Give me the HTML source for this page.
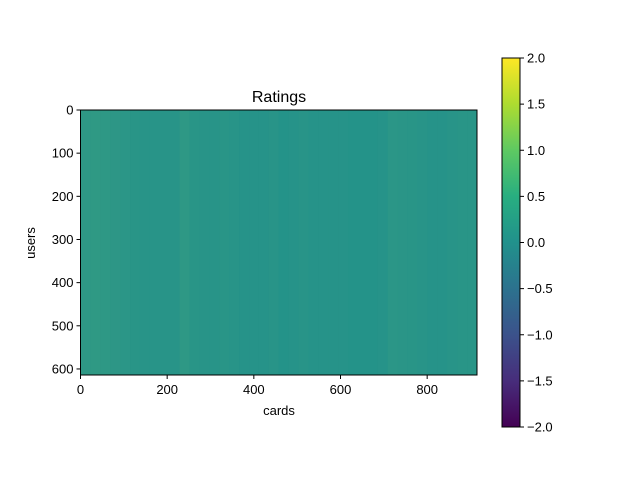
<!DOCTYPE html>
<html><head><meta charset="utf-8"><style>
body{margin:0;background:#fff;font-family:"Liberation Sans",sans-serif;}
svg text{font-family:"Liberation Sans",sans-serif;fill:#000}
</style></head><body>
<svg width="640" height="480" viewBox="0 0 640 480">
<defs>
<linearGradient id="vir" x1="0" y1="1" x2="0" y2="0">
<stop offset="0" stop-color="#440154"/><stop offset="0.125" stop-color="#472d7b"/>
<stop offset="0.25" stop-color="#3b528b"/><stop offset="0.375" stop-color="#2c728e"/>
<stop offset="0.5" stop-color="#21918c"/><stop offset="0.625" stop-color="#28ae80"/>
<stop offset="0.75" stop-color="#5ec962"/><stop offset="0.875" stop-color="#addc30"/>
<stop offset="1" stop-color="#fde725"/></linearGradient>
</defs>
<text x="279" y="102" font-size="16" text-anchor="middle">Ratings</text>
<g id="plot"></g>
<g id="axes"></g>
<rect x="502" y="58" width="18" height="369" fill="url(#vir)" stroke="#000" stroke-width="1"/>
<g id="cbticks"></g>
<text x="279" y="415" font-size="13" text-anchor="middle">cards</text>
<text x="35" y="243" font-size="13" text-anchor="middle" transform="rotate(-90 35 243)">users</text>
</svg>
<script>
const nCols = 915, nRows = 614;
const xTicks = [0,200,400,600,800];
const yTicks = [0,100,200,300,400,500,600];
const cbTicks = [2.0,1.5,1.0,0.5,0.0,-0.5,-1.0,-1.5,-2.0];
// column-bin (23 cards each) density of non-zero ratings
const colDensity = [0.5,0.55,0.5,0.45,0.4,0.3,0.25,0.25,0.25,0.25,0.5,0.3,0.25,0.25,0.3,0.25,0.2,0.2,0.2,0.25,0.15,0.2,0.25,0.2,0.2,0.2,0.2,0.15,0.15,0.15,0.2,0.4,0.35,0.3,0.25,0.2,0.2,0.25,0.3,0.3];
const x0=80.5,x1=477,y0=110,y1=375;
const sx=v=>x0+v*(x1-x0)/nCols, sy=v=>y0+v*(y1-y0)/nRows;
const NS="http://www.w3.org/2000/svg";
const plot=document.getElementById('plot'), axes=document.getElementById('axes'), cb=document.getElementById('cbticks');
function mk(t,a,p){const e=document.createElementNS(NS,t);for(const k in a)e.setAttribute(k,a[k]);p.appendChild(e);return e;}
const bg=mk('rect',{x:x0,y:y0,width:x1-x0,height:y1-y0,fill:'#21918c'},plot);


const bw=nCols/colDensity.length;
colDensity.forEach((d,i)=>{
  const r=mk('rect',{x:sx(i*bw),y:y0,width:sx((i+1)*bw)-sx(i*bw),height:y1-y0,fill:'#a8d84a','fill-opacity':(d*0.2).toFixed(3)},plot);
  
  
});
const fr=mk('rect',{x:x0,y:y0,width:x1-x0,height:y1-y0,fill:'none',stroke:'#000','stroke-width':1},axes);


xTicks.forEach(v=>{const x=sx(v);
  const l=mk('line',{x1:x,x2:x,y1:y1,y2:y1+4,stroke:'#000'},axes);
  
  
  const t=mk('text',{x:x,y:y1+19,'font-size':13,'text-anchor':'middle'},axes);t.textContent=v;
  
  
});
yTicks.forEach(v=>{const y=sy(v);
  const l=mk('line',{x1:x0-4,x2:x0,y1:y,y2:y,stroke:'#000'},axes);
  
  
  const t=mk('text',{x:x0-7,y:y+4.5,'font-size':13,'text-anchor':'end'},axes);t.textContent=v;
  
  
});
cbTicks.forEach(v=>{const y=58+(2-v)/4*369;
  const l=mk('line',{x1:520,x2:524,y1:y,y2:y,stroke:'#000'},cb);
  
  
  const t=mk('text',{x:527,y:y+4.5,'font-size':13},cb);t.textContent=v.toFixed(1).replace('-','−');
  
  
});
</script>
</body></html>
